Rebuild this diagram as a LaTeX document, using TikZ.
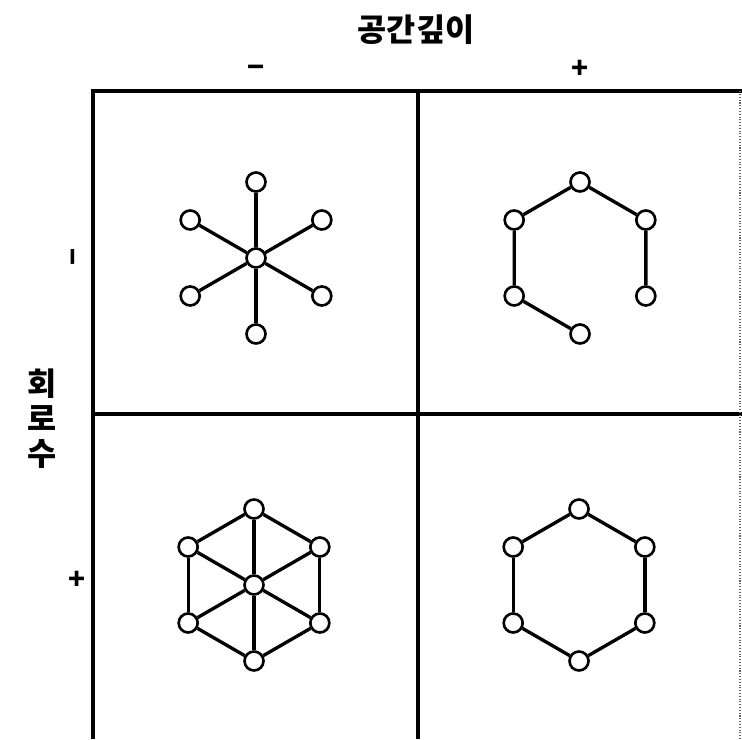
\documentclass[tikz,border=0pt]{standalone}
\usepackage{fontspec}
\newfontfamily\krfont{Noto Sans CJK KR}
\usetikzlibrary{positioning}

\begin{document}
\begin{tikzpicture}[
  x=0.2mm,y=0.2mm,
  vtx/.style={circle,draw,line width=1.5pt,fill=white,minimum size=3.8mm,inner sep=0pt},
  ed/.style={line width=1.9pt},
  frame/.style={line width=2pt},
  lbl/.style={font=\krfont\bfseries\fontsize{18}{20}\selectfont,align=center},
  sgn/.style={font=\krfont\bfseries\fontsize{16}{16}\selectfont},
]
\useasboundingbox (0,0) rectangle (742,739);

% frame of the four cells
\draw[frame] (93,0) -- (93,648) -- (742,648);
\draw[frame] (418,0) -- (418,648);
\draw[frame] (93,325) -- (742,325);
\draw[line width=0.6pt,black!60,densely dotted] (740,0) -- (740,648);

% axis labels
\node[lbl] (depth) at (416,709) {공간깊이};
\node[sgn] (dminus) at (256,668) {−};
\node[sgn] (dplus) at (580,670) {+};
\node[lbl] (loops) at (42,320) {회\\로\\수};
\node[sgn,rotate=90] (lminus) at (77,482) {−};
\node[sgn] (lplus) at (77,159) {+};

% hexagon vertices of each cell
\foreach \c/\cx/\cy in {a/256/481,b/580/481,c/254/154,d/579/154}{
  \foreach \i/\ang in {1/90,2/30,3/-30,4/-90,5/-150,6/150}
    \node[vtx] (\c\i) at ([shift={(\cx,\cy)}]\ang:76) {};
}
\node[vtx] (ac) at (256,481) {};
\node[vtx] (cc) at (254,154) {};

% star
\foreach \i in {1,...,6} \draw[ed] (ac) -- (a\i);
% open chain
\draw[ed] (b3) -- (b2) -- (b1) -- (b6) -- (b5) -- (b4);
% wheel
\foreach \i/\j in {1/2,2/3,3/4,4/5,5/6,6/1} \draw[ed] (c\i) -- (c\j);
\foreach \i in {1,...,6} \draw[ed] (cc) -- (c\i);
% ring
\foreach \i/\j in {1/2,2/3,3/4,4/5,5/6,6/1} \draw[ed] (d\i) -- (d\j);
\end{tikzpicture}
\end{document}
